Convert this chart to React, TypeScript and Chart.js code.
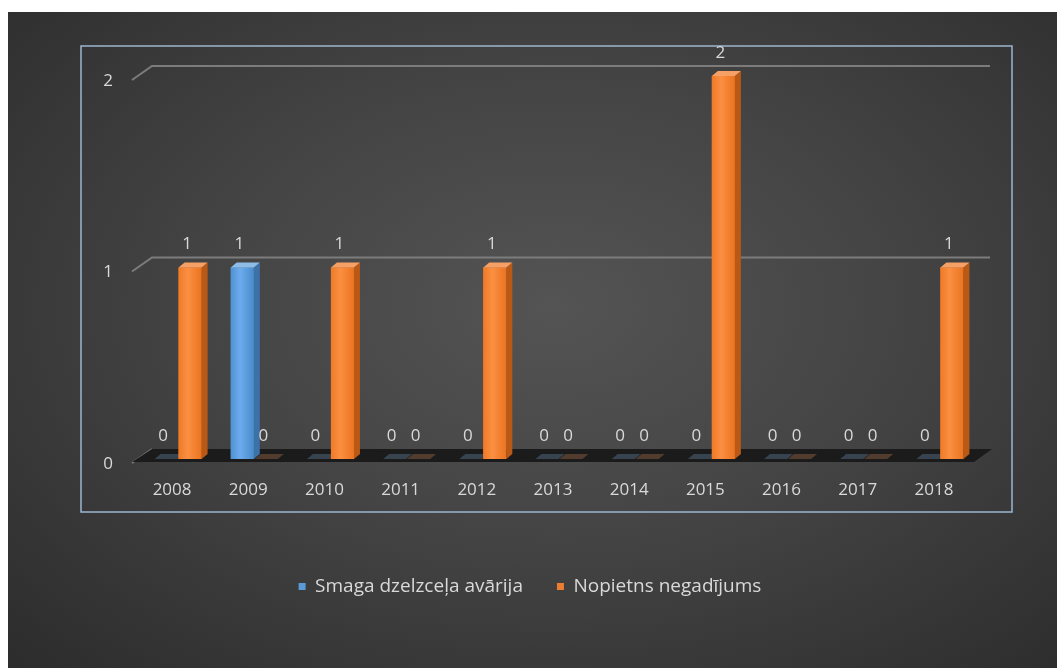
import React, { useEffect, useRef } from "react";
import { Chart, registerables } from "chart.js";

Chart.register(...registerables);

const years = ["2008", "2009", "2010", "2011", "2012", "2013", "2014", "2015", "2016", "2017", "2018"];
const smagaValues = [0, 1, 0, 0, 0, 0, 0, 0, 0, 0, 0];
const nopietnsValues = [1, 0, 1, 0, 1, 0, 0, 2, 0, 0, 1];
const seriesNames = ["Smaga dzelzceļa avārija", "Nopietns negadījums"];
const yMin = 0;
const yMax = 2;
const yStep = 1;

const BLUE = "#5b9bd5";
const ORANGE = "#ed7d31";
const FRONT = [
  ["#4f91d2", "#6cacec", "#4a8bcb"],
  ["#f07a26", "#fb8f42", "#ea7420"],
];
const SIDE = ["#3d72a8", "#b95915"];
const TOP = ["#8dbce6", "#f6a066"];
const TEXT = "#d9d9d9";
const FONT = "'Open Sans', sans-serif";

const threeD = {
  id: "threeD",
  beforeDatasetsDraw(chart: any) {
    const { ctx, chartArea: a, scales } = chart;
    const y = scales.y;
    ctx.save();
    // plot-area frame
    ctx.strokeStyle = "#9db5cf";
    ctx.lineWidth = 1.5;
    ctx.strokeRect(a.left - 59, a.top - 30, a.right - a.left + 93, a.bottom - a.top + 83);
    // back gridlines with perspective stub
    ctx.strokeStyle = "#7c7c7c";
    ctx.lineWidth = 2;
    for (let v = yMin; v <= yMax; v += yStep) {
      const yy = y.getPixelForValue(v);
      ctx.beginPath();
      ctx.moveTo(a.left - 8, yy + 4);
      ctx.lineTo(a.left + 12, yy - 10);
      if (v > yMin) ctx.lineTo(a.right + 12, yy - 10);
      ctx.stroke();
    }
    // floor
    const y0 = y.getPixelForValue(yMin);
    ctx.fillStyle = "#1b1b1b";
    ctx.beginPath();
    ctx.moveTo(a.left + 12, y0 - 10);
    ctx.lineTo(a.right + 14, y0 - 10);
    ctx.lineTo(a.right - 4, y0 + 3);
    ctx.lineTo(a.left - 8, y0 + 3);
    ctx.closePath();
    ctx.fill();
    ctx.restore();
  },
  afterDatasetsDraw(chart: any) {
    const { ctx } = chart;
    const dx = 6;
    const dy = 5;
    ctx.save();
    chart.data.datasets.forEach((ds: any, di: number) => {
      const meta = chart.getDatasetMeta(di);
      meta.data.forEach((bar: any, i: number) => {
        const { x, y, base, width } = bar.getProps(["x", "y", "base", "width"], true);
        const l = x - width / 2;
        const r = x + width / 2;
        const zero = Math.abs(base - y) < 0.5;
        if (!zero) {
          const g = ctx.createLinearGradient(l, 0, r, 0);
          g.addColorStop(0, FRONT[di][0]);
          g.addColorStop(0.4, FRONT[di][1]);
          g.addColorStop(1, FRONT[di][2]);
          ctx.fillStyle = g;
          ctx.fillRect(l, y, r - l, base - y);
          ctx.fillStyle = SIDE[di];
          ctx.beginPath();
          ctx.moveTo(r, y);
          ctx.lineTo(r + dx, y - dy);
          ctx.lineTo(r + dx, base - dy);
          ctx.lineTo(r, base);
          ctx.closePath();
          ctx.fill();
        }
        ctx.globalAlpha = zero ? 0.25 : 1;
        ctx.fillStyle = TOP[di];
        ctx.beginPath();
        ctx.moveTo(l, y);
        ctx.lineTo(l + dx, y - dy);
        ctx.lineTo(r + dx, y - dy);
        ctx.lineTo(r, y);
        ctx.closePath();
        ctx.fill();
        ctx.globalAlpha = 1;
        // data label
        ctx.fillStyle = TEXT;
        ctx.font = `17px ${FONT}`;
        ctx.textAlign = "center";
        ctx.textBaseline = "middle";
        ctx.fillText(String(ds.data[i]), x - 3, y - 23);
      });
    });
    ctx.restore();
  },
};

export default function App() {
  const ref = useRef<HTMLCanvasElement | null>(null);
  useEffect(() => {
    if (!ref.current) return;
    Chart.defaults.font.family = FONT;
    Chart.defaults.font.size = 17;
    Chart.defaults.color = TEXT;
    const chart = new Chart(ref.current, {
      type: "bar",
      data: {
        labels: years,
        datasets: [
          { label: seriesNames[0], data: smagaValues, backgroundColor: BLUE, borderWidth: 0 },
          { label: seriesNames[1], data: nopietnsValues, backgroundColor: ORANGE, borderWidth: 0 },
        ],
      },
      options: {
        responsive: false,
        animation: false,
        categoryPercentage: 0.63,
        barPercentage: 0.96,
        layout: { padding: { top: 64, right: 79, bottom: 62, left: 74 } },
        plugins: {
          legend: {
            position: "bottom",
            labels: {
              boxWidth: 7,
              boxHeight: 7,
              padding: 34,
              color: TEXT,
              font: { family: FONT, size: 19 },
            },
          },
          tooltip: { enabled: false },
        },
        scales: {
          x: {
            grid: { display: false, drawTicks: false },
            border: { display: false },
            ticks: { color: TEXT, font: { family: FONT, size: 17 }, padding: 21, labelOffset: -6 },
            afterFit: (s: any) => {
              s.height = 84;
            },
          },
          y: {
            min: yMin,
            max: yMax,
            grid: { display: false, drawTicks: false },
            border: { display: false },
            ticks: {
              stepSize: yStep,
              color: TEXT,
              font: { family: FONT, size: 17 },
              padding: 27,
              labelOffset: 5,
            },
            afterFit: (s: any) => {
              s.width = 58;
            },
          },
        },
      },
      plugins: [threeD],
    });
    return () => chart.destroy();
  }, []);
  return (
    <div
      style={{
        position: "fixed",
        left: 8,
        top: 12,
        width: 1049,
        height: 656,
        background:
          "radial-gradient(ellipse farthest-corner at 52% 45%, #545454 0%, #444444 45%, #2c2c2c 100%)",
      }}
    >
      <canvas ref={ref} width={1049} height={656} style={{ display: "block" }} />
    </div>
  );
}
